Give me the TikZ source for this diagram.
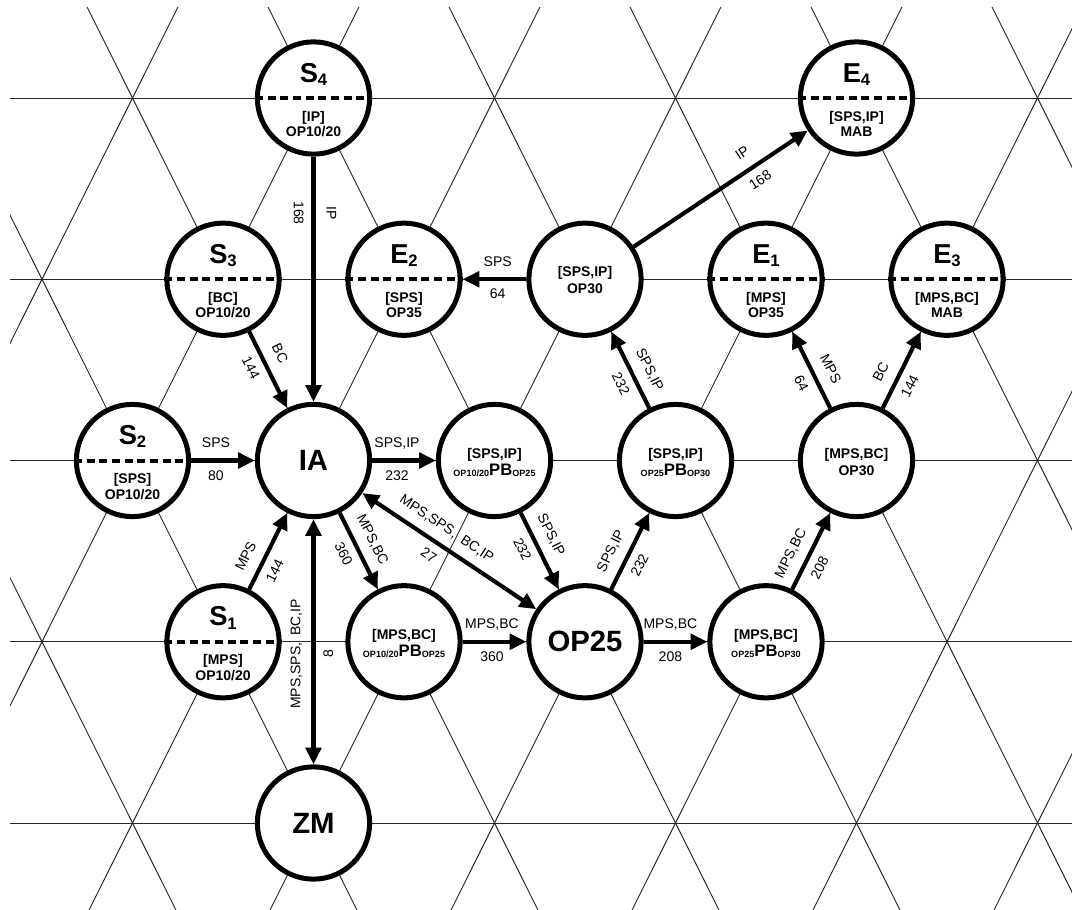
\documentclass[tikz,border=0pt]{standalone}
\usepackage{fontspec}
\setmainfont{Liberation Sans}
\usetikzlibrary{arrows.meta}
\newcommand\SEnode[7]{%
  \node[circ] (#1) at (#2,#3) {};
  \draw[dashl] (#1.west) -- (#1.east);
  \node[ttl, anchor=base] (#1t) at (#2,#3-16) {#4\raisebox{-2.5pt}{\fontsize{12.5}{12.5}\selectfont #5}};
  \node[sml, anchor=base] (#1a) at (#2,#3+23) {#6};
  \node[sml, anchor=base] (#1b) at (#2,#3+38.5) {#7};
}
\newcommand\MDnode[5]{%
  \node[circ] (#1) at (#2,#3) {};
  \node[sml, anchor=base] (#1a) at (#2,#3-2.5) {#4};
  \node[sml, anchor=base] (#1b) at (#2,#3+14.5) {#5};
}
\newcommand\PBtext[2]{\raisebox{-1.3pt}{\fontsize{6.8}{7}\selectfont #1}{\fontsize{12.5}{13}\selectfont PB}\raisebox{-1.3pt}{\fontsize{6.8}{7}\selectfont #2}}
\begin{document}
\begin{tikzpicture}[x=0.75pt,y=-0.75pt,
  grid/.style={line width=0.7pt, black!85},
  circ/.style={circle, draw, line width=3.75pt, fill=white, minimum size=84.2pt, inner sep=0pt},
  arr/.style={line width=3.1pt, -{Triangle[length=12.5pt,width=11.5pt]}},
  darr/.style={line width=3.1pt, {Triangle[length=12.5pt,width=11.5pt]}-{Triangle[length=12.5pt,width=11.5pt]}},
  dashl/.style={line width=3pt, dash pattern=on 6pt off 3.5pt},
  lab/.style={font=\fontsize{10.5}{12}\selectfont, sloped, text depth=0pt, inner sep=0.5pt},
  nm/.style={lab, above=7.8pt},
  num/.style={lab, below=5.3pt},
  sml/.style={font=\fontsize{10.5}{12}\selectfont\bfseries, inner sep=0pt},
  ttl/.style={font=\fontsize{20.5}{20.5}\selectfont\bfseries, inner sep=0pt},
  big/.style={circ, font=\fontsize{22}{22}\selectfont\bfseries}
]
\fill[white] (0,0) rectangle (1072,910);
\useasboundingbox (0,0) rectangle (1072,910);
% grid
\begin{scope}
  \clip (10,7) rectangle (1072,910);
  \foreach \y in {98,279.25,460.5,641.75,823} \draw[grid] (10,\y) -- (1072,\y);
  \foreach \k in {-3,...,8} {
    \draw[grid] ({132.5+181*\k-98.86},-100) -- ({132.5+181*\k+450.4},1000);
    \draw[grid] ({132.5+181*\k+98.86},-100) -- ({132.5+181*\k-450.4},1000);
  }
\end{scope}
% split nodes
\SEnode{S4}{313.5}{98}{S}{4}{[IP]}{OP10/20}
\SEnode{E4}{856.5}{98}{E}{4}{[SPS,IP]}{MAB}
\SEnode{S3}{223}{279.25}{S}{3}{[BC]}{OP10/20}
\SEnode{E2}{404}{279.25}{E}{2}{[SPS]}{OP35}
\SEnode{E1}{766}{279.25}{E}{1}{[MPS]}{OP35}
\SEnode{E3}{947}{279.25}{E}{3}{[MPS,BC]}{MAB}
\SEnode{S2}{132.5}{460.5}{S}{2}{[SPS]}{OP10/20}
\SEnode{S1}{223}{641.75}{S}{1}{[MPS]}{OP10/20}
% middle nodes
\MDnode{OPA}{585}{279.25}{[SPS,IP]}{OP30}
\MDnode{PB1}{494.5}{460.5}{[SPS,IP]}{\PBtext{OP10/20}{OP25}}
\MDnode{PB2}{675.5}{460.5}{[SPS,IP]}{\PBtext{OP25}{OP30}}
\MDnode{OPB}{856.5}{460.5}{[MPS,BC]}{OP30}
\MDnode{PB3}{404}{641.75}{[MPS,BC]}{\PBtext{OP10/20}{OP25}}
\MDnode{PB4}{766}{641.75}{[MPS,BC]}{\PBtext{OP25}{OP30}}
% big nodes
\node[big] (IA) at (313.5,460.5) {IA};
\node[big] (OP25) at (585,641.75) {OP25};
\node[big] (ZM) at (313.5,823) {ZM};
% edges
\draw[arr] (S4) -- node[nm,pos=0.23]{IP} node[num,pos=0.23]{168} (IA);
\draw[arr] (S3) -- node[nm,pos=0.39]{BC} node[num,pos=0.39]{144} (IA);
\draw[arr] (S2) -- node[nm,pos=0.39]{SPS} node[num,pos=0.39]{80} (IA);
\draw[arr] (S1) -- node[nm,pos=0.33]{MPS} node[num,pos=0.33]{144} (IA);
\draw[darr] (ZM) -- node[nm,pos=0.45]{MPS,SPS,\hspace{0.5em}BC,IP} node[num,pos=0.45]{8} (IA);
\draw[arr] (IA) -- node[nm,pos=0.39]{SPS,IP} node[num,pos=0.39]{232} (PB1);
\draw[arr] (IA) -- node[nm,pos=0.45]{MPS,BC} node[num,pos=0.45]{360} (PB3);
\draw[darr] (IA) -- node[nm,pos=0.43]{MPS,SPS,\hspace{0.5em}BC,IP} node[num,pos=0.43]{27} (OP25);
\draw[arr] (PB1) -- node[nm,pos=0.39]{SPS,IP} node[num,pos=0.39]{232} (OP25);
\draw[arr] (PB3) -- node[nm,pos=0.46]{MPS,BC} node[num,pos=0.46]{360} (OP25);
\draw[arr] (OP25) -- node[nm,pos=0.4]{SPS,IP} node[num,pos=0.4]{232} (PB2);
\draw[arr] (OP25) -- node[nm,pos=0.42]{MPS,BC} node[num,pos=0.42]{208} (PB4);
\draw[arr] (PB4) -- node[nm,pos=0.37]{MPS,BC} node[num,pos=0.37]{208} (OPB);
\draw[arr] (PB2) -- node[nm,pos=0.4]{SPS,IP} node[num,pos=0.4]{232} (OPA);
\draw[arr] (OPB) -- node[nm,pos=0.41]{MPS} node[num,pos=0.41]{64} (E1);
\draw[arr] (OPB) -- node[nm,pos=0.37]{BC} node[num,pos=0.37]{144} (E3);
\draw[arr] (OPA) -- node[nm,pos=0.45]{SPS} node[num,pos=0.45]{64} (E2);
\draw[arr] (OPA) -- node[nm,pos=0.68]{IP} node[num,pos=0.68]{168} (E4);
\end{tikzpicture}
\end{document}
